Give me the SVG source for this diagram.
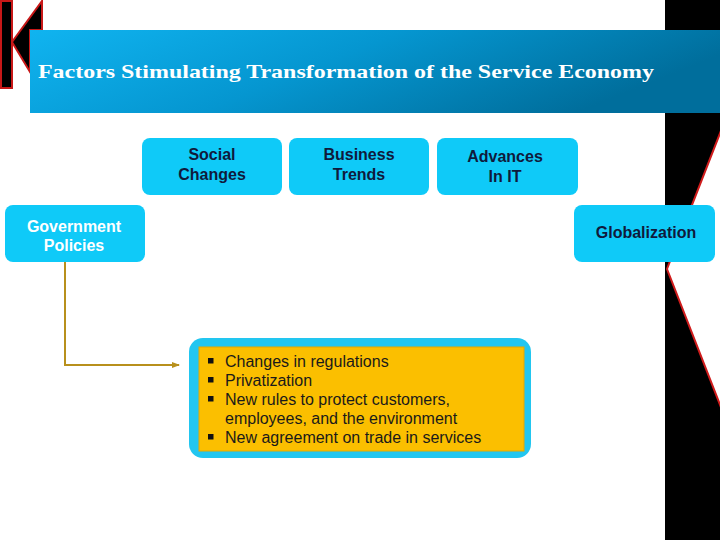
<svg xmlns="http://www.w3.org/2000/svg" width="720" height="540" viewBox="0 0 720 540">
<defs>
<linearGradient id="hdr" x1="0" y1="0" x2="1" y2="0.3">
<stop offset="0" stop-color="#10b4f0"/>
<stop offset="0.5" stop-color="#0596d0"/>
<stop offset="1" stop-color="#006e9c"/>
</linearGradient>
<marker id="arr" markerWidth="8" markerHeight="8" refX="7" refY="4" orient="auto" markerUnits="userSpaceOnUse">
<path d="M0,1 L8,4 L0,7 Z" fill="#b8901c"/>
</marker>
<style>
.node{fill:#0fcaf8}
.lbl{font-weight:bold;font-size:16px;fill:#0f1a3c;text-anchor:middle}
.wlbl{fill:#ffffff}
.item{font-size:16px;fill:#1a1a1a}
.bul{fill:#111111}
.conn{fill:none;stroke:#b8901c;stroke-width:2}
</style>
</defs>
<rect width="720" height="540" fill="#ffffff"/>
<g id="decor">
<rect x="665" y="0" width="55" height="540" fill="#000000"/>
<polygon points="722,128 667,269 722,410" fill="#ffffff" stroke="#d01c1c" stroke-width="2"/>
<polygon points="1,1 12,1 12,42 42,1 42,30 30,30 30,72 12,42 12,88 1,88" fill="#000000" stroke="#c81818" stroke-width="2" stroke-linejoin="miter"/>
</g>
<g id="header">
<rect x="30" y="30" width="690" height="83" fill="url(#hdr)"/>
<text x="38" y="78" font-family="Liberation Serif, serif" font-weight="bold" font-size="19" fill="#ffffff" textLength="616" lengthAdjust="spacingAndGlyphs">Factors Stimulating Transformation of the Service Economy</text>
</g>
<g id="connectors">
<polyline class="conn" points="65,262 65,365 179,365" marker-end="url(#arr)"/>
</g>
<g font-family="Liberation Sans, Arial, sans-serif">
<g id="social">
<rect class="node" x="142" y="138" width="140" height="57" rx="8"/>
<text class="lbl" x="212" y="160">Social</text>
<text class="lbl" x="212" y="180">Changes</text>
</g>
<g id="business">
<rect class="node" x="289" y="138" width="140" height="57" rx="8"/>
<text class="lbl" x="359" y="160">Business</text>
<text class="lbl" x="359" y="180">Trends</text>
</g>
<g id="advances">
<rect class="node" x="437" y="138" width="141" height="57" rx="8"/>
<text class="lbl" x="505" y="162">Advances</text>
<text class="lbl" x="505" y="182">In IT</text>
</g>
<g id="government">
<rect class="node" x="5" y="205" width="140" height="57" rx="8"/>
<text class="lbl wlbl" x="74" y="232">Government</text>
<text class="lbl wlbl" x="74" y="251">Policies</text>
</g>
<g id="globalization">
<rect class="node" x="574" y="205" width="141" height="57" rx="8"/>
<text class="lbl" x="646" y="238">Globalization</text>
</g>
<g id="details">
<rect x="189" y="338" width="342" height="120" rx="14" fill="#22c6f0"/>
<rect x="199" y="347" width="325" height="104" fill="#fbbf00" stroke="#e3a800" stroke-width="1"/>
<rect class="bul" x="208" y="358" width="5.5" height="5.5"/>
<rect class="bul" x="208" y="377" width="5.5" height="5.5"/>
<rect class="bul" x="208" y="396" width="5.5" height="5.5"/>
<rect class="bul" x="208" y="434" width="5.5" height="5.5"/>
<text class="item" x="225" y="367">Changes in regulations</text>
<text class="item" x="225" y="386">Privatization</text>
<text class="item" x="225" y="405">New rules to protect customers,</text>
<text class="item" x="225" y="424">employees, and the environment</text>
<text class="item" x="225" y="443">New agreement on trade in services</text>
</g>
</g>
</svg>
